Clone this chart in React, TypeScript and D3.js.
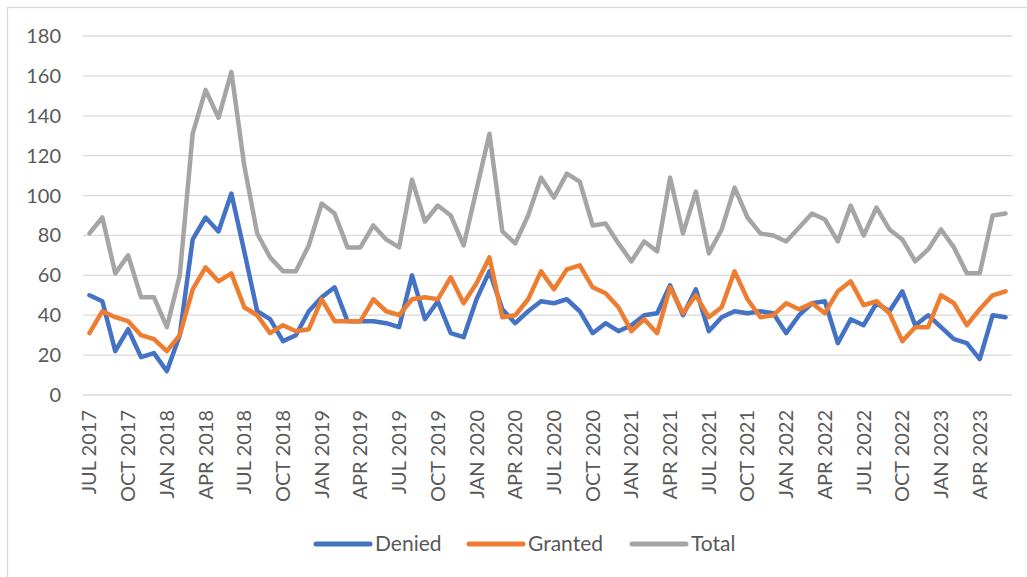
import React, { useRef, useEffect } from 'react';
import * as d3 from 'd3';

const MONTH_NAMES = ['JAN', 'FEB', 'MAR', 'APR', 'MAY', 'JUN', 'JUL', 'AUG', 'SEP', 'OCT', 'NOV', 'DEC'];

// Jul 2017 .. Jun 2023, one category per month
const categories: string[] = [];
for (let i = 0; i < 72; i++) {
    const m = (6 + i) % 12;
    const y = 2017 + Math.floor((6 + i) / 12);
    categories.push(`${MONTH_NAMES[m]} ${y}`);
}

const denied = [
    50, 47, 22, 33, 19, 21, 12, 30, 78, 89,
    82, 101, 72, 42, 38, 27, 30, 42, 49, 54,
    37, 37, 37, 36, 34, 60, 38, 47, 31, 29,
    48, 62, 43, 36, 42, 47, 46, 48, 42, 31,
    36, 32, 35, 40, 41, 55, 40, 53, 32, 39,
    42, 41, 42, 41, 31, 40, 46, 47, 26, 38,
    35, 46, 42, 52, 35, 40, 34, 28, 26, 18,
    40, 39,
];

const granted = [
    31, 42, 39, 37, 30, 28, 22, 30, 53, 64,
    57, 61, 44, 40, 31, 35, 32, 33, 48, 37,
    37, 37, 48, 42, 40, 48, 49, 48, 59, 46,
    56, 69, 39, 40, 48, 62, 53, 63, 65, 54,
    51, 44, 32, 38, 31, 54, 41, 50, 39, 44,
    62, 48, 39, 40, 46, 43, 46, 41, 52, 57,
    45, 47, 41, 27, 34, 34, 50, 46, 35, 43,
    50, 52,
];

const total = [
    81, 89, 61, 70, 49, 49, 34, 60, 131, 153,
    139, 162, 115, 81, 69, 62, 62, 75, 96, 91,
    74, 74, 85, 78, 74, 108, 87, 95, 90, 75,
    103, 131, 82, 76, 90, 109, 99, 111, 107, 85,
    86, 76, 67, 77, 72, 109, 81, 102, 71, 83,
    104, 89, 81, 80, 77, 84, 91, 88, 77, 95,
    80, 94, 83, 78, 67, 73, 83, 74, 61, 61,
    90, 91,
];

const yTicks = [0, 20, 40, 60, 80, 100, 120, 140, 160, 180];

const series = [
    { name: 'Denied', values: denied, color: '#4472C4' },
    { name: 'Granted', values: granted, color: '#ED7D31' },
    { name: 'Total', values: total, color: '#A5A5A5' },
];

export default function App() {
    const svgRef = useRef<SVGSVGElement>(null);

    useEffect(() => {
        if (!svgRef.current) return;
        const width = 1027;
        const height = 577;
        const font = 'Lato, "Open Sans", sans-serif';
        const textColor = '#595959';

        const svg = d3.select(svgRef.current);
        svg.selectAll('*').remove();

        svg.append('rect').attr('width', width).attr('height', height).attr('fill', 'white');

        // chart frame
        svg.append('rect')
            .attr('x', 7.5).attr('y', 7.5)
            .attr('width', 1030).attr('height', 580)
            .attr('fill', 'none')
            .attr('stroke', '#D9D9D9')
            .attr('stroke-width', 1.3);

        const x = d3.scaleBand<string>()
            .domain(categories)
            .range([83, 1012])
            .padding(0);

        const y = d3.scaleLinear()
            .domain([0, 180])
            .range([395, 36]);

        const cx = (c: string) => (x(c) as number) + x.bandwidth() / 2;

        // gridlines
        svg.append('g')
            .selectAll('line')
            .data(yTicks)
            .join('line')
            .attr('x1', 83).attr('x2', 1012)
            .attr('y1', d => y(d)).attr('y2', d => y(d))
            .attr('stroke', '#D9D9D9')
            .attr('stroke-width', 1.3);

        // y labels
        svg.append('g')
            .selectAll('text')
            .data(yTicks)
            .join('text')
            .attr('x', 61)
            .attr('y', d => y(d))
            .attr('dy', '0.35em')
            .attr('text-anchor', 'end')
            .attr('fill', textColor)
            .attr('font-family', font)
            .attr('font-size', 20)
            .text(d => d);

        // x labels every quarter
        const tickCats = categories.filter((_, i) => i % 3 === 0);
        svg.append('g')
            .selectAll('text')
            .data(tickCats)
            .join('text')
            .attr('transform', d => `translate(${cx(d)},410) rotate(-90)`)
            .attr('dy', '0.35em')
            .attr('text-anchor', 'end')
            .attr('fill', textColor)
            .attr('font-family', font)
            .attr('font-size', 20)
            .text(d => d);

        // lines
        const line = d3.line<number>()
            .x((_, i) => cx(categories[i]))
            .y(d => y(d));

        series.forEach(s => {
            svg.append('path')
                .datum(s.values)
                .attr('fill', 'none')
                .attr('stroke', s.color)
                .attr('stroke-width', 4.5)
                .attr('stroke-linejoin', 'round')
                .attr('stroke-linecap', 'round')
                .attr('d', line);
        });

        // legend
        const legendX = [316, 469, 632];
        const legend = svg.append('g')
            .selectAll('g')
            .data(series)
            .join('g')
            .attr('transform', (_, i) => `translate(${legendX[i]},544)`);

        legend.append('line')
            .attr('x1', 0).attr('x2', 54)
            .attr('y1', 0).attr('y2', 0)
            .attr('stroke', d => d.color)
            .attr('stroke-width', 5)
            .attr('stroke-linecap', 'round');

        legend.append('text')
            .attr('x', 59)
            .attr('y', 0)
            .attr('dy', '0.35em')
            .attr('fill', textColor)
            .attr('font-family', font)
            .attr('font-size', 21)
            .text(d => d.name);
    }, []);

    return (
        <svg
            ref={svgRef}
            width={1027}
            height={577}
            style={{ position: 'absolute', left: 0, top: 0, display: 'block' }}
        />
    );
}
